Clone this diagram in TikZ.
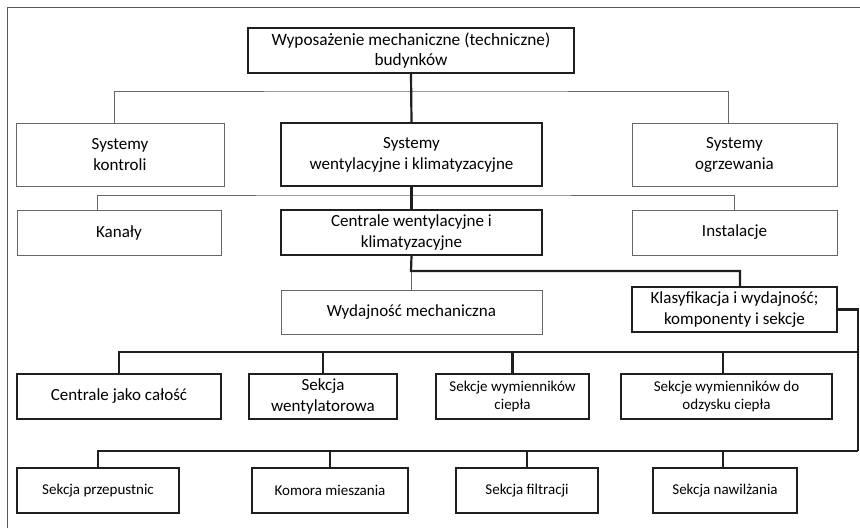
\documentclass[tikz,border=0pt]{standalone}
\usepackage{fontspec}
\setmainfont{Carlito}
\begin{document}
\begin{tikzpicture}[x=1pt,y=-1pt,
  thinbox/.style={draw=black!60,line width=0.9pt,inner sep=0pt,align=center,font=\fontsize{17}{21}\selectfont},
  thickbox/.style={draw=black!88,line width=2.2pt,inner sep=0pt,align=center,font=\fontsize{17}{21}\selectfont},
  small/.style={font=\fontsize{15}{18}\selectfont},
  big/.style={font=\fontsize{17.3}{20}\selectfont},
  thinline/.style={draw=black!60,line width=0.9pt},
  thickline/.style={draw=black!88,line width=2.2pt},
]
\useasboundingbox (0,0) rectangle (860,528);
\fill[white] (0,0) rectangle (860,528);
% frame
\draw[black!65,line width=1pt] (7,528) -- (7,7) -- (860,7);

\node[thickbox,big,minimum width=326,minimum height=45] (top) at (411,50.5) {Wyposażenie mechaniczne (techniczne)\\budynków};

\node[thinbox,minimum width=208,minimum height=63] (sk) at (120,154.5) {Systemy\\kontroli};
\node[thickbox,minimum width=261,minimum height=63] (sw) at (411.5,154.5) {Systemy\\wentylacyjne i klimatyzacyjne};
\node[thinbox,minimum width=205,minimum height=63] (so) at (734.5,154.5) {Systemy\\ogrzewania};

\node[thinbox,minimum width=204,minimum height=45] (ka) at (119,232.5) {Kanały};
\node[thickbox,minimum width=261,minimum height=45] (ce) at (411.5,232.5) {Centrale wentylacyjne i\\klimatyzacyjne};
\node[thinbox,minimum width=205,minimum height=45] (in) at (734.5,232.5) {Instalacje};

\node[thinbox,minimum width=261,minimum height=44] (wm) at (411.5,312) {Wydajność mechaniczna};
\node[thickbox,minimum width=205,minimum height=45] (kl) at (734.5,309.5) {Klasyfikacja i wydajność;\\komponenty i sekcje};

\node[thickbox,minimum width=204,minimum height=45] (cj) at (119,396.5) {Centrale jako całość};
\node[thickbox,minimum width=148,minimum height=45] (sn) at (323,396.5) {Sekcja\\wentylatorowa};
\node[thickbox,small,minimum width=153,minimum height=45] (swc) at (512.5,396.5) {Sekcje wymienników\\ciepła};
\node[thickbox,small,minimum width=211,minimum height=45] (swo) at (726.5,396.5) {Sekcje wymienników do\\odzysku ciepła};

\node[thickbox,small,minimum width=162,minimum height=45] (sp) at (98,490.5) {Sekcja przepustnic};
\node[thickbox,small,minimum width=156,minimum height=45] (km) at (330,490.5) {Komora mieszania};
\node[thickbox,small,minimum width=142,minimum height=45] (sf) at (527,490.5) {Sekcja filtracji};
\node[thickbox,small,minimum width=144,minimum height=45] (snw) at (725,490.5) {Sekcja nawilżania};

% level 1
\coordinate (j1) at (411,91);
\draw[thinline] ([xshift=-6pt]sk.north) |- (j1) -| ([xshift=-6pt]so.north);
\draw[thickline] (top.south) -- (sw.north);

% level 2
\coordinate (j2) at (411,195);
\draw[thinline] ([xshift=-22pt]ka.north) |- (j2) -| (in.north);
\draw[thickline] (sw.south) -- (ce.north);

% level 3
\draw[thinline] (ce.south) -- (wm.north);
\coordinate (j3) at (411,271);
\draw[thickline] (ce.south) -- (j3) -| ([xshift=5.5pt]kl.north);

% right trunk
\coordinate (r1) at (858,309.5);
\coordinate (r2) at (858,352);
\coordinate (r3) at (858,451);
\draw[thickline] (kl.east) -- (r1) -- (r3);
\draw[thickline] (r2) -| (cj.north);
\draw[thickline] (sn.north) |- (r2);
\draw[thickline] (swc.north) |- (r2);
\draw[thickline] ([xshift=-3.5pt]swo.north) |- (r2);
\draw[thickline] (r3) -| (sp.north);
\draw[thickline] (km.north) |- (r3);
\draw[thickline] (sf.north) |- (r3);
\draw[thickline] ([xshift=-2pt]snw.north) |- (r3);
\end{tikzpicture}
\end{document}
